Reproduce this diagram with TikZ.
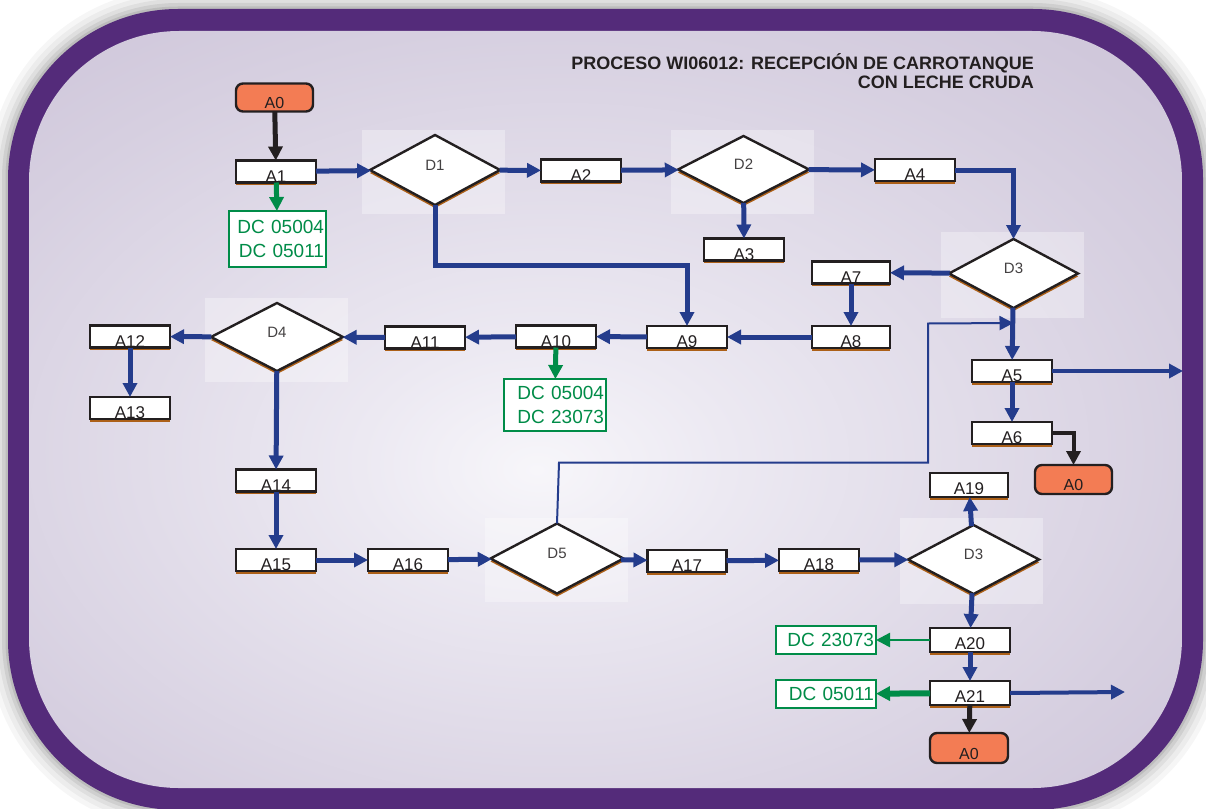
\documentclass[tikz,border=0pt]{standalone}
\usepackage{fontspec}
\setmainfont{Liberation Sans}
\usepackage{tikz}
\usetikzlibrary{arrows.meta,positioning,shapes.geometric,shadows}

\definecolor{framepurple}{RGB}{84,43,122}
\definecolor{flowblue}{RGB}{36,60,140}
\definecolor{docgreen}{RGB}{0,140,72}
\definecolor{inkdark}{RGB}{35,31,32}
\definecolor{termorange}{RGB}{243,124,84}
\definecolor{rimbrown}{RGB}{172,96,24}
\definecolor{glowA}{RGB}{247,246,250}
\definecolor{glowB}{RGB}{236,233,242}
\definecolor{glowC}{RGB}{214,207,224}
\definecolor{glowD}{RGB}{193,182,207}
\definecolor{glowE}{RGB}{185,170,200}

% soft light spot, a bit left of and below the middle
\pgfdeclareradialshading{softglow}{\pgfpoint{-3bp}{-4bp}}{%
  color(0bp)=(glowA); color(8bp)=(glowB); color(28bp)=(glowC);
  color(50bp)=(glowD); color(72bp)=(glowE)}

\begin{document}
\begin{tikzpicture}[
  x=1pt,y=-1pt,
  font=\fontsize{17}{19}\selectfont,
  act/.style={draw=inkdark,line width=2.6pt,fill=white,text=inkdark,
              minimum width=80pt,minimum height=22pt,inner sep=0pt,outer sep=0pt,
              text height=21pt,text depth=0pt,
              drop shadow={shadow xshift=-0.5pt,shadow yshift=-2.5pt,fill=rimbrown,opacity=1}},
  dec/.style={diamond,draw=inkdark,line width=2.4pt,fill=white,text=inkdark!85,
              minimum width=130pt,minimum height=70pt,inner sep=0pt,outer sep=0pt,
              text height=0pt,text depth=0pt,font=\fontsize{15}{17}\selectfont,
              drop shadow={shadow xshift=0pt,shadow yshift=-3pt,fill=rimbrown,opacity=1}},
  backdrop/.style={fill=white,fill opacity=0.32,minimum width=143pt,
              minimum height=84pt,inner sep=0pt},
  term/.style={draw=inkdark,line width=2.4pt,fill=termorange,rounded corners=7pt,
              minimum width=77pt,minimum height=28pt,inner sep=0pt,outer sep=0pt,
              text height=21pt,text depth=0pt,text=inkdark,font=\fontsize{16}{18}\selectfont},
  doc/.style={draw=docgreen,line width=2.4pt,fill=white,text=docgreen,
              font=\fontsize{19}{24}\selectfont,align=right,text width=93pt,
              inner xsep=2pt,inner ysep=0pt,minimum height=28pt,outer sep=0pt},
  ttl/.style={font=\bfseries\fontsize{18}{18}\selectfont,text=inkdark,inner sep=0pt},
  flow/.style={draw=flowblue,line width=5pt,-{Triangle[length=14pt,width=14pt]}},
  kflow/.style={flow,draw=inkdark},
  gflow/.style={flow,draw=docgreen},
  loopback/.style={flow,line width=2pt}
]
\useasboundingbox (0,0) rectangle (1206,808);
\fill[white] (0,0) rectangle (1206,808);

% frame with soft halo
\foreach \w/\o in {40/0.035,30/0.04,20/0.05,12/0.07,5/0.09}
  \draw[line width=\w pt,black,opacity=\o,rounded corners=170pt] (8,9) rectangle (1203,810);
\fill[framepurple,rounded corners=170pt] (8,9) rectangle (1203,810);
\shade[shading=softglow,rounded corners=150pt] (29,31) rectangle (1182,788);

% heading
\node[ttl,anchor=base east] (ttl1) at (1034,70) {PROCESO WI06012: RECEPCIÓN DE CARROTANQUE};
\node[ttl,anchor=base east] (ttl2) at (1034,88) {CON LECHE CRUDA};

% pale squares behind the decisions
\node[backdrop] (d1bg) at (433.5,171.5) {};
\node[backdrop] (d2bg) at (742.5,172) {};
\node[backdrop,minimum height=86pt] (d3bg) at (1012,275) {};
\node[backdrop] (d4bg) at (276,339.5) {};
\node[backdrop] (d5bg) at (556,560) {};
\node[backdrop,minimum height=86pt] (d3bbg) at (971,561) {};

% top row
\node[term] (a0top) at (274.5,97.5) {A0};
\node[act] (a1) at (276,171.5) {A1};
\node[doc,minimum height=56pt] (dc1) at (277.5,239) {DC 05004\\DC 05011};
\node[dec] (d1) at (435,170) {D1};
\node[act] (a2) at (581,170.5) {A2};
\node[dec,minimum width=131pt,minimum height=67pt] (d2) at (743.5,169.5) {D2};
\node[act] (a3) at (744,249.5) {A3};
\node[act] (a4) at (915,170) {A4};

% right column
\node[dec,minimum width=129pt,minimum height=69pt] (d3) at (1013.5,273.5) {D3};
\node[act,minimum width=78pt] (a7) at (851,272.5) {A7};
\node[act,minimum width=78pt] (a8) at (851,337) {A8};
\node[act] (a5) at (1012,371) {A5};
\node[act] (a6) at (1012,433) {A6};
\node[term,minimum height=29pt] (a0right) at (1073.5,479.5) {A0};
\coordinate (out5) at (1183,371);
\coordinate (join) at (1013.5,323);

% middle row
\node[act] (a9) at (687,337) {A9};
\node[act] (a10) at (556,336.5) {A10};
\node[doc,text width=98pt,minimum height=52pt] (dc2) at (555,405) {DC 05004\\DC 23073};
\node[act] (a11) at (425,337.5) {A11};
\node[dec,minimum width=132pt,minimum height=68pt] (d4) at (277,337) {D4};
\node[act] (a12) at (130,336.5) {A12};
\node[act] (a13) at (130,408) {A13};

% bottom part
\node[act] (a14) at (276,480.5) {A14};
\node[act] (a15) at (276,560) {A15};
\node[act] (a16) at (408,560) {A16};
\node[dec,minimum width=133pt] (d5) at (557,558.5) {D5};
\node[act,minimum width=79pt] (a17) at (687,561) {A17};
\node[act] (a18) at (819,560) {A18};
\node[dec,minimum width=131pt,minimum height=69pt] (d3b) at (973.5,559.5) {D3};
\node[act,minimum width=78pt,minimum height=24pt,text height=19pt] (a19) at (969,485) {A19};
\node[act,minimum height=24pt,text height=19pt] (a20) at (970,640) {A20};
\node[act,minimum height=24pt,text height=19pt] (a21) at (970,693) {A21};
\node[doc,text width=96pt] (dc3) at (826,640) {DC 23073};
\node[doc,text width=96pt] (dc4) at (826,694) {DC 05011};
\node[term,minimum width=78pt,minimum height=30pt,text height=23pt] (a0bot) at (969,748) {A0};
\coordinate (out21) at (1125,692);

% connectors
\draw[kflow] (a0top) -- (a1);
\draw[gflow] (a1) -- (dc1);
\draw[flow] (a1) -- (d1);
\draw[flow] (d1) -- (a2);
\draw[flow] (a2) -- (d2);
\draw[flow] (d2) -- (a4);
\draw[flow] (d2) -- (a3);
\draw[flow] (a4.east) -| (d3.north);
\draw[flow] (d1.south) -- ++(0,60) -| (a9.north);
\draw[flow] (d3) -- (a7);
\draw[flow] (a7) -- (a8);
\draw[flow] (a8) -- (a9);
\draw[flow] (a9) -- (a10);
\draw[gflow] (a10) -- (dc2);
\draw[flow] (a10) -- (a11);
\draw[flow] (a11) -- (d4);
\draw[flow] (d4) -- (a12);
\draw[flow] (a12) -- (a13);
\draw[flow] (d4) -- (a14);
\draw[flow] (a14) -- (a15);
\draw[flow] (a15) -- (a16);
\draw[flow] (a16) -- (d5);
\draw[flow] (d5) -- (a17);
\draw[flow] (a17) -- (a18);
\draw[flow] (a18) -- (d3b);
\draw[flow] (d3b) -- (a19);
\draw[flow] (d3b) -- (a20);
\draw[flow] (a20) -- (a21);
\draw[gflow,line width=2.5pt] (a20) -- (dc3);
\draw[gflow,line width=6pt] (a21) -- (dc4);
\draw[flow,line width=4pt] (a21.east) -- (out21);
\draw[kflow] (a21) -- (a0bot);
\draw[flow] (d3) -- (a5);
\draw[flow,line width=4pt] (a5.east) -- (out5);
\draw[flow] (a5) -- (a6);
\draw[kflow,line width=4pt] (a6.east) -| (a0right.north);
\draw[loopback] (d5.north) -- ++(2,-61) -| ++(369,-139) -- (join);
\end{tikzpicture}
\end{document}
